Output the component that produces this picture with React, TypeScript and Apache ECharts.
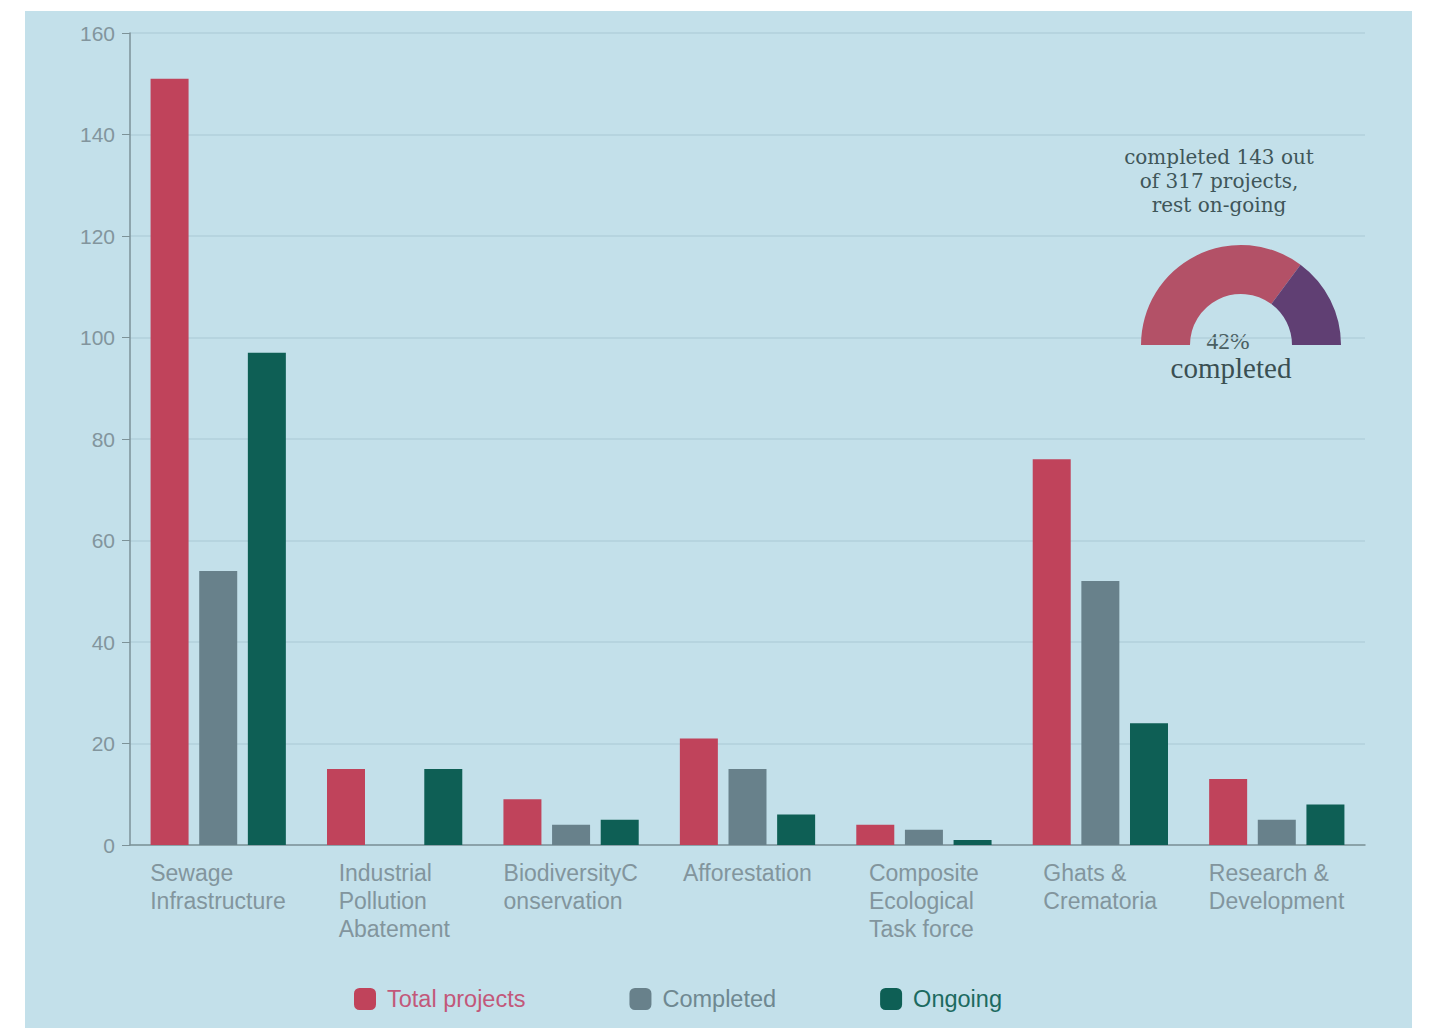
import React, { useEffect, useRef } from "react";
import * as echarts from "echarts";

const categories = [
  "Sewage\nInfrastructure",
  "Industrial\nPollution\nAbatement",
  "BiodiversityC\nonservation",
  "Afforestation",
  "Composite\nEcological\nTask force",
  "Ghats &\nCrematoria",
  "Research &\nDevelopment",
];
const totalProjects = [151, 15, 9, 21, 4, 76, 13];
const completed = [54, 0, 4, 15, 3, 52, 5];
const ongoing = [97, 15, 5, 6, 1, 24, 8];
const yTicks = { min: 0, max: 160, interval: 20 };
const gaugeShares = [70.3, 29.7];
const gaugeTitle = "completed 143 out\nof 317 projects,\nrest on-going";
const gaugePercent = "42%";
const gaugeCaption = "completed";

const SANS = '"Liberation Sans", Arial, sans-serif';
const SERIF = '"Liberation Serif", "Times New Roman", serif';
const WIDE_SERIF = '"DejaVu Serif", "Liberation Serif", serif';
const XFONT = 23;

function measureMax(lines: string[], font: string): number {
  const c = document.createElement("canvas");
  const ctx = c.getContext("2d");
  if (!ctx) return 150;
  ctx.font = font;
  return Math.ceil(Math.max(...lines.map((l) => ctx.measureText(l).width)));
}

export default function App() {
  const ref = useRef<HTMLDivElement>(null);
  useEffect(() => {
    if (!ref.current) return;
    const chart = echarts.init(ref.current, undefined, { renderer: "svg" });
    const labelColor = "#82959d";
    const rich: Record<string, any> = {};
    categories.forEach((c, i) => {
      rich["c" + i] = {
        width: measureMax(c.split("\n"), `${XFONT}px ${SANS}`),
        align: "left",
        fontSize: XFONT,
        lineHeight: 28,
        fontFamily: SANS,
        color: labelColor,
      };
    });
    const colors = ["#c0435b", "#68818b", "#0e5f55"];
    chart.setOption({
      animation: false,
      backgroundColor: "#c3e0ea",
      grid: { left: 105, top: 22, right: 47, bottom: 183, containLabel: false },
      legend: {
        left: 329,
        top: 976,
        padding: 0,
        itemWidth: 22,
        itemHeight: 22,
        itemGap: 104,
        icon: "roundRect",
        textStyle: { fontSize: 23.5, fontFamily: SANS, padding: [0, 0, 0, 6] },
        data: [
          { name: "Total projects", textStyle: { color: "#c2587a" } },
          { name: "Completed", textStyle: { color: "#6f8891" } },
          { name: "Ongoing", textStyle: { color: "#1c6a60" } },
        ],
      },
      xAxis: {
        type: "category",
        data: categories,
        axisLine: { show: true, lineStyle: { color: "#7d9298", width: 1.5 } },
        axisTick: { show: false },
        axisLabel: {
          margin: 14,
          formatter: (v: string, idx: number) =>
            v
              .split("\n")
              .map((l) => `{c${idx}|${l}}`)
              .join("\n"),
          rich,
        },
      },
      yAxis: {
        type: "value",
        min: yTicks.min,
        max: yTicks.max,
        interval: yTicks.interval,
        axisLine: { show: true, lineStyle: { color: "#7d9298", width: 1.5 } },
        axisTick: { show: true, length: 8, lineStyle: { color: "#7d9298" } },
        axisLabel: {
          margin: 15,
          fontSize: 21,
          fontFamily: SANS,
          color: labelColor,
        },
        splitLine: { show: true, lineStyle: { color: "#b2d1db", width: 1.5 } },
      },
      series: [
        {
          name: "Total projects",
          type: "bar",
          data: totalProjects,
          barWidth: 38,
          barGap: "28%",
          itemStyle: { color: colors[0] },
        },
        {
          name: "Completed",
          type: "bar",
          data: completed,
          barWidth: 38,
          barGap: "28%",
          itemStyle: { color: colors[1] },
        },
        {
          name: "Ongoing",
          type: "bar",
          data: ongoing,
          barWidth: 38,
          barGap: "28%",
          itemStyle: { color: colors[2] },
        },
        {
          name: "gauge",
          type: "pie",
          center: [1216, 334],
          radius: [51, 100],
          startAngle: 180,
          clockwise: true,
          silent: true,
          label: { show: false },
          labelLine: { show: false },
          data: [
            { value: gaugeShares[0], itemStyle: { color: "#b35167" } },
            { value: gaugeShares[1], itemStyle: { color: "#603f73" } },
            {
              value: gaugeShares[0] + gaugeShares[1],
              itemStyle: { color: "rgba(0,0,0,0)" },
            },
          ],
        },
      ],
      graphic: [
        {
          type: "text",
          x: 1194,
          y: 170,
          style: {
            text: gaugeTitle,
            align: "center",
            verticalAlign: "middle",
            fontSize: 20,
            lineHeight: 24,
            fontFamily: WIDE_SERIF,
            fill: "#3f5659",
          },
        },
        {
          type: "text",
          x: 1203,
          y: 330,
          style: {
            text: gaugePercent,
            align: "center",
            verticalAlign: "middle",
            fontSize: 23.5,
            fontFamily: SERIF,
            fill: "#4a5f62",
          },
        },
        {
          type: "text",
          x: 1206,
          y: 357,
          style: {
            text: gaugeCaption,
            align: "center",
            verticalAlign: "middle",
            fontSize: 29,
            fontFamily: SERIF,
            fill: "#3a4f52",
          },
        },
      ],
    });
    return () => chart.dispose();
  }, []);
  return (
    <div
      style={{
        position: "absolute",
        left: 0,
        top: 0,
        width: 1431,
        height: 1030,
        background: "#ffffff",
      }}
    >
      <div
        ref={ref}
        style={{ position: "absolute", left: 25, top: 11, width: 1387, height: 1017 }}
      />
    </div>
  );
}
